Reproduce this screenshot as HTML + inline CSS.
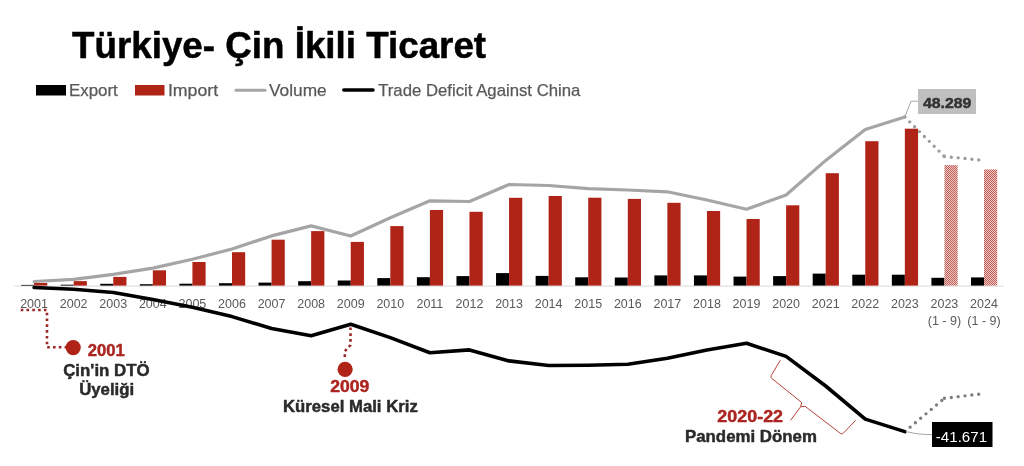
<!DOCTYPE html><html><head><meta charset="utf-8"><style>html,body{margin:0;padding:0;background:#fff;width:1024px;height:466px;overflow:hidden}svg{display:block;will-change:transform}text{font-family:"Liberation Sans",sans-serif}</style></head><body>
<svg width="1024" height="466" viewBox="0 0 1024 466">
<defs><pattern id="chk" width="2" height="2" patternUnits="userSpaceOnUse"><rect width="2" height="2" fill="#F0CAC7"/><rect width="1" height="1" fill="#BE5C56"/><rect x="1" y="1" width="1" height="1" fill="#BE5C56"/></pattern></defs>
<text id="title" x="72.00" y="58.00" font-size="36.5" fill="#000" font-weight="bold" textLength="414.11" lengthAdjust="spacingAndGlyphs" stroke="#000" stroke-width="0.5" stroke-linejoin="round">Türkiye- Çin İkili Ticaret</text>
<g id="legend">
<rect x="36" y="85" width="30" height="10.5" fill="#000"/>
<rect x="135" y="85" width="29.5" height="10.5" fill="#B02418"/>
<line x1="236" y1="90.2" x2="265" y2="90.2" stroke="#A5A5A5" stroke-width="3" stroke-linecap="round"/>
<line x1="343.8" y1="90" x2="373" y2="90" stroke="#000" stroke-width="3.5" stroke-linecap="round"/>
</g>
<text id="export" x="68.96" y="95.70" font-size="16.2" fill="#595959" textLength="48.83" lengthAdjust="spacingAndGlyphs" stroke="#595959" stroke-width="0.25" stroke-linejoin="round">Export</text>
<text id="import" x="167.91" y="95.70" font-size="16.2" fill="#595959" textLength="50.23" lengthAdjust="spacingAndGlyphs" stroke="#595959" stroke-width="0.25" stroke-linejoin="round">Import</text>
<text id="volume" x="268.96" y="95.70" font-size="16.2" fill="#595959" textLength="57.77" lengthAdjust="spacingAndGlyphs" stroke="#595959" stroke-width="0.25" stroke-linejoin="round">Volume</text>
<text id="trade" x="378.19" y="95.70" font-size="16.2" fill="#595959" textLength="202.17" lengthAdjust="spacingAndGlyphs" stroke="#595959" stroke-width="0.25" stroke-linejoin="round">Trade Deficit Against China</text>
<g id="chart">
<rect x="14.3" y="285.6" width="989.7" height="1" fill="#D9D9D9"/>
<rect x="21.09" y="284.90" width="13" height="0.70" fill="#000"/>
<rect x="34.09" y="283.00" width="13.2" height="2.60" fill="#B02418"/>
<rect x="60.67" y="284.70" width="13" height="0.90" fill="#000"/>
<rect x="73.67" y="281.10" width="13.2" height="4.50" fill="#B02418"/>
<rect x="100.25" y="283.80" width="13" height="1.80" fill="#000"/>
<rect x="113.25" y="276.90" width="13.2" height="8.70" fill="#B02418"/>
<rect x="139.83" y="284.20" width="13" height="1.40" fill="#000"/>
<rect x="152.83" y="270.30" width="13.2" height="15.30" fill="#B02418"/>
<rect x="179.41" y="283.70" width="13" height="1.90" fill="#000"/>
<rect x="192.41" y="262.00" width="13.2" height="23.60" fill="#B02418"/>
<rect x="218.99" y="283.20" width="13" height="2.40" fill="#000"/>
<rect x="231.99" y="252.20" width="13.2" height="33.40" fill="#B02418"/>
<rect x="258.57" y="282.60" width="13" height="3.00" fill="#000"/>
<rect x="271.57" y="239.70" width="13.2" height="45.90" fill="#B02418"/>
<rect x="298.15" y="281.20" width="13" height="4.40" fill="#000"/>
<rect x="311.15" y="231.10" width="13.2" height="54.50" fill="#B02418"/>
<rect x="337.73" y="280.50" width="13" height="5.10" fill="#000"/>
<rect x="350.73" y="241.90" width="13.2" height="43.70" fill="#B02418"/>
<rect x="377.31" y="278.10" width="13" height="7.50" fill="#000"/>
<rect x="390.31" y="226.10" width="13.2" height="59.50" fill="#B02418"/>
<rect x="416.89" y="277.20" width="13" height="8.40" fill="#000"/>
<rect x="429.89" y="210.00" width="13.2" height="75.60" fill="#B02418"/>
<rect x="456.47" y="276.10" width="13" height="9.50" fill="#000"/>
<rect x="469.47" y="211.80" width="13.2" height="73.80" fill="#B02418"/>
<rect x="496.05" y="273.10" width="13" height="12.50" fill="#000"/>
<rect x="509.05" y="197.80" width="13.2" height="87.80" fill="#B02418"/>
<rect x="535.63" y="275.90" width="13" height="9.70" fill="#000"/>
<rect x="548.63" y="196.00" width="13.2" height="89.60" fill="#B02418"/>
<rect x="575.21" y="277.30" width="13" height="8.30" fill="#000"/>
<rect x="588.21" y="197.70" width="13.2" height="87.90" fill="#B02418"/>
<rect x="614.79" y="277.50" width="13" height="8.10" fill="#000"/>
<rect x="627.79" y="198.90" width="13.2" height="86.70" fill="#B02418"/>
<rect x="654.37" y="275.40" width="13" height="10.20" fill="#000"/>
<rect x="667.37" y="202.80" width="13.2" height="82.80" fill="#B02418"/>
<rect x="693.95" y="275.40" width="13" height="10.20" fill="#000"/>
<rect x="706.95" y="211.00" width="13.2" height="74.60" fill="#B02418"/>
<rect x="733.53" y="276.60" width="13" height="9.00" fill="#000"/>
<rect x="746.53" y="219.00" width="13.2" height="66.60" fill="#B02418"/>
<rect x="773.11" y="276.10" width="13" height="9.50" fill="#000"/>
<rect x="786.11" y="205.30" width="13.2" height="80.30" fill="#B02418"/>
<rect x="812.69" y="273.60" width="13" height="12.00" fill="#000"/>
<rect x="825.69" y="173.20" width="13.2" height="112.40" fill="#B02418"/>
<rect x="852.27" y="274.70" width="13" height="10.90" fill="#000"/>
<rect x="865.27" y="141.20" width="13.2" height="144.40" fill="#B02418"/>
<rect x="891.85" y="274.70" width="13" height="10.90" fill="#000"/>
<rect x="904.85" y="128.70" width="13.2" height="156.90" fill="#B02418"/>
<rect x="931.43" y="277.80" width="13" height="7.80" fill="#000"/>
<rect x="944.43" y="165.10" width="13.2" height="120.50" fill="url(#chk)"/>
<rect x="971.01" y="277.40" width="13" height="8.20" fill="#000"/>
<rect x="984.01" y="169.40" width="13.2" height="116.20" fill="url(#chk)"/>
<text x="34.09" y="308" font-size="12.5" fill="#595959" text-anchor="middle">2001</text>
<text x="73.67" y="308" font-size="12.5" fill="#595959" text-anchor="middle">2002</text>
<text x="113.25" y="308" font-size="12.5" fill="#595959" text-anchor="middle">2003</text>
<text x="152.83" y="308" font-size="12.5" fill="#595959" text-anchor="middle">2004</text>
<text x="192.41" y="308" font-size="12.5" fill="#595959" text-anchor="middle">2005</text>
<text x="231.99" y="308" font-size="12.5" fill="#595959" text-anchor="middle">2006</text>
<text x="271.57" y="308" font-size="12.5" fill="#595959" text-anchor="middle">2007</text>
<text x="311.15" y="308" font-size="12.5" fill="#595959" text-anchor="middle">2008</text>
<text x="350.73" y="308" font-size="12.5" fill="#595959" text-anchor="middle">2009</text>
<text x="390.31" y="308" font-size="12.5" fill="#595959" text-anchor="middle">2010</text>
<text x="429.89" y="308" font-size="12.5" fill="#595959" text-anchor="middle">2011</text>
<text x="469.47" y="308" font-size="12.5" fill="#595959" text-anchor="middle">2012</text>
<text x="509.05" y="308" font-size="12.5" fill="#595959" text-anchor="middle">2013</text>
<text x="548.63" y="308" font-size="12.5" fill="#595959" text-anchor="middle">2014</text>
<text x="588.21" y="308" font-size="12.5" fill="#595959" text-anchor="middle">2015</text>
<text x="627.79" y="308" font-size="12.5" fill="#595959" text-anchor="middle">2016</text>
<text x="667.37" y="308" font-size="12.5" fill="#595959" text-anchor="middle">2017</text>
<text x="706.95" y="308" font-size="12.5" fill="#595959" text-anchor="middle">2018</text>
<text x="746.53" y="308" font-size="12.5" fill="#595959" text-anchor="middle">2019</text>
<text x="786.11" y="308" font-size="12.5" fill="#595959" text-anchor="middle">2020</text>
<text x="825.69" y="308" font-size="12.5" fill="#595959" text-anchor="middle">2021</text>
<text x="865.27" y="308" font-size="12.5" fill="#595959" text-anchor="middle">2022</text>
<text x="904.85" y="308" font-size="12.5" fill="#595959" text-anchor="middle">2023</text>
<text x="944.43" y="308" font-size="12.5" fill="#595959" text-anchor="middle">2023</text>
<text x="944.43" y="324.7" font-size="12.5" fill="#595959" text-anchor="middle">(1 - 9)</text>
<text x="984.01" y="308" font-size="12.5" fill="#595959" text-anchor="middle">2024</text>
<text x="984.01" y="324.7" font-size="12.5" fill="#595959" text-anchor="middle">(1 - 9)</text>
<line x1="904.85" y1="117.00" x2="944.43" y2="156.50" stroke="#9C9C9C" stroke-width="3.4" stroke-linecap="round" stroke-dasharray="0 6.9"/>
<line x1="904.85" y1="431.60" x2="944.43" y2="398.30" stroke="#7F7F7F" stroke-width="3.4" stroke-linecap="round" stroke-dasharray="0 6.9"/>
<line x1="944.43" y1="156.50" x2="984.01" y2="160.40" stroke="#9C9C9C" stroke-width="3.4" stroke-linecap="round" stroke-dasharray="0 6.9"/>
<line x1="944.43" y1="398.30" x2="984.01" y2="393.60" stroke="#7F7F7F" stroke-width="3.4" stroke-linecap="round" stroke-dasharray="0 6.9"/>
<polyline points="34.09,281.50 73.67,279.40 113.25,274.30 152.83,268.10 192.41,259.30 231.99,249.00 271.57,235.90 311.15,225.90 350.73,236.00 390.31,217.80 429.89,200.80 469.47,201.50 509.05,184.50 548.63,185.50 588.21,188.60 627.79,190.00 667.37,191.80 706.95,200.00 746.53,209.20 786.11,195.00 825.69,160.40 865.27,129.50 904.85,117.00" fill="none" stroke="#A5A5A5" stroke-width="3.2" stroke-linejoin="round" stroke-linecap="round"/>
<polyline points="34.09,287.50 73.67,289.20 113.25,292.50 152.83,299.50 192.41,307.30 231.99,316.60 271.57,328.50 311.15,335.70 350.73,324.20 390.31,337.60 429.89,352.80 469.47,349.90 509.05,360.90 548.63,365.50 588.21,365.20 627.79,364.20 667.37,358.20 706.95,350.00 746.53,343.20 786.11,356.40 825.69,386.00 865.27,419.10 904.85,431.60" fill="none" stroke="#000" stroke-width="3.6" stroke-linejoin="round" stroke-linecap="round"/>
<polyline points="904.85,117.00 911,101.2 918,101.2" fill="none" stroke="#A5A5A5" stroke-width="1"/>
<rect x="918" y="89" width="58" height="25" fill="#BFBFBF"/>
<path d="M905.8,431.5 C915,433.5 920,434.6 932,434.6" fill="none" stroke="#A5A5A5" stroke-width="1"/>
<rect x="932" y="422" width="60.5" height="25" fill="#000"/>
<path d="M20.7,310 H47 V347.3 H66" fill="none" stroke="#9A2826" stroke-width="2.6" stroke-dasharray="2.6 3.2"/>
<circle cx="73.2" cy="347.6" r="7.6" fill="#B02418"/>
<path d="M350.5,327.5 V345 L344.8,351.3 V359" fill="none" stroke="#9A2826" stroke-width="2.6" stroke-dasharray="2.6 3.2"/>
<circle cx="345.1" cy="369.3" r="7.6" fill="#B02418"/>
<path d="M780.4,360.2 L771.2,375.5 Q770.3,377.3 772,378.6 L801.8,402.6 L800.6,406.8 L805,406.2 L840.5,433.5 Q842.5,434.5 843.6,432.9 L855.7,420.3 M800.6,406.8 L790.6,420.3" fill="none" stroke="#B8403A" stroke-width="1"/>
</g>
<text id="a2001" x="87.80" y="355.60" font-size="16.6" fill="#AC2520" font-weight="bold" textLength="37.03" lengthAdjust="spacingAndGlyphs" stroke="#AC2520" stroke-width="0.45" stroke-linejoin="round">2001</text>
<text id="cin" x="63.18" y="375.80" font-size="16.5" fill="#2A2A2A" font-weight="bold" textLength="86.55" lengthAdjust="spacingAndGlyphs" stroke="#2A2A2A" stroke-width="0.45" stroke-linejoin="round">Çin&#39;in DTÖ</text>
<text id="uye" x="79.17" y="395.20" font-size="16.5" fill="#2A2A2A" font-weight="bold" textLength="55.05" lengthAdjust="spacingAndGlyphs" stroke="#2A2A2A" stroke-width="0.45" stroke-linejoin="round">Üyeliği</text>
<text id="a2009" x="330.19" y="391.60" font-size="16.6" fill="#AC2520" font-weight="bold" textLength="39.19" lengthAdjust="spacingAndGlyphs" stroke="#AC2520" stroke-width="0.45" stroke-linejoin="round">2009</text>
<text id="kur" x="282.99" y="411.50" font-size="16.5" fill="#2A2A2A" font-weight="bold" textLength="134.78" lengthAdjust="spacingAndGlyphs" stroke="#2A2A2A" stroke-width="0.45" stroke-linejoin="round">Küresel Mali Kriz</text>
<text id="a2020" x="717.37" y="421.70" font-size="16.6" fill="#AC2520" font-weight="bold" textLength="65.68" lengthAdjust="spacingAndGlyphs" stroke="#AC2520" stroke-width="0.45" stroke-linejoin="round">2020-22</text>
<text id="pan" x="684.99" y="441.50" font-size="16.5" fill="#2A2A2A" font-weight="bold" textLength="131.91" lengthAdjust="spacingAndGlyphs" stroke="#2A2A2A" stroke-width="0.45" stroke-linejoin="round">Pandemi Dönem</text>
<text id="v48" x="923.02" y="108.20" font-size="15" fill="#333333" font-weight="bold" textLength="48.39" lengthAdjust="spacingAndGlyphs" stroke="#333333" stroke-width="0.5" stroke-linejoin="round">48.289</text>
<text id="v41" x="935.80" y="441.50" font-size="15" fill="#FFFFFF" textLength="51.29" lengthAdjust="spacingAndGlyphs">-41.671</text>
</svg></body></html>
